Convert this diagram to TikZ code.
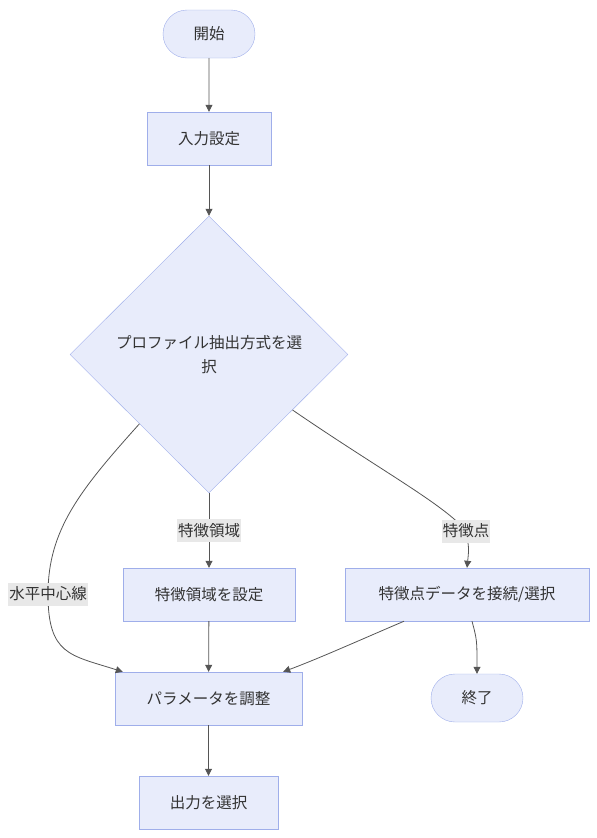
\documentclass[tikz,border=0pt]{standalone}
\usepackage{fontspec}
\setmainfont{Noto Sans CJK JP}
\usepackage{xcolor}
\usetikzlibrary{arrows.meta,positioning,shapes.geometric,shapes.misc,calc}
\definecolor{flowfill}{HTML}{E8ECFB}
\definecolor{flowline}{HTML}{9FAEEA}
\definecolor{flowtext}{HTML}{333333}
\definecolor{flowedge}{HTML}{555555}
\definecolor{flowlabel}{HTML}{E8E8E8}

\begin{document}
\begin{tikzpicture}[
        x=1pt, y=-1pt,
        font=\fontsize{15.5pt}{24pt}\selectfont,
        box/.style={
          draw=flowline,
          fill=flowfill,
          text=flowtext,
          minimum height=53pt,
          align=center,
          inner sep=0pt
        },
        stadium/.style={
          box,
          rounded rectangle,
          minimum width=92pt,
          minimum height=48pt
        },
        decision/.style={
          box,
          diamond,
          minimum width=278pt,
          minimum height=277pt
        },
        lbl/.style={
          fill=flowlabel,
          text=flowtext,
          inner sep=1pt,
          minimum height=23pt
        },
        flow/.style={
          -{Triangle[length=7pt,width=7pt]},
          flowedge,
          line width=0.8pt
        }
      ]
      \useasboundingbox (0,0) rectangle (597,838);

      \node[stadium] (start) at (209,34) {開始};
      \node[box, minimum width=124pt] (input) at (209,138.5) {入力設定};
      \node[decision] (dec) at (209,354.5) {プロファイル抽出方式を選\\択};
      \node[box, minimum width=172pt] (area) at (209,594.5) {特徴領域を設定};
      \node[box, minimum width=244pt] (fp) at (467,594.5) {特徴点データを接続/選択};
      \node[box, minimum width=187pt] (par) at (208.5,698.5) {パラメータを調整};
      \node[stadium] (stop) at (477,698) {終了};
      \node[box, minimum width=139pt] (out) at (208.5,802.5) {出力を選択};

      \coordinate (hzpt) at (48,594);
      \coordinate (fppt) at (466,531);

      \draw[flow] (start) -- (input);
      \draw[flow] (input) -- (dec);
      \draw[flow] (dec) -- node[lbl] (larea) {特徴領域} (area);
      \draw[flow] (dec.south west) .. controls (80,490) and (48,530) .. (hzpt)
        node[lbl] (lhz) {水平中心線}
        .. controls (48,655) and (70,655) .. ($(par.north west)+(8,0)$);
      \draw[flow] ($(dec.east)!0.4!(dec.south)$) .. controls (380,470) and (445,505) .. (fppt)
        node[lbl] (lfp) {特徴点}
        .. controls (469,548) .. (fp.north);
      \draw[flow] (area) -- (par);
      \draw[flow] ($(fp.south)+(-63,0)$) .. controls (360,640) and (320,658) .. ($(par.north east)+(-19,0)$);
      \draw[flow] ($(fp.south)+(5,0)$) .. controls (477,640) .. (stop.north);
      \draw[flow] (par) -- (out);

      \end{tikzpicture}
\end{document}
